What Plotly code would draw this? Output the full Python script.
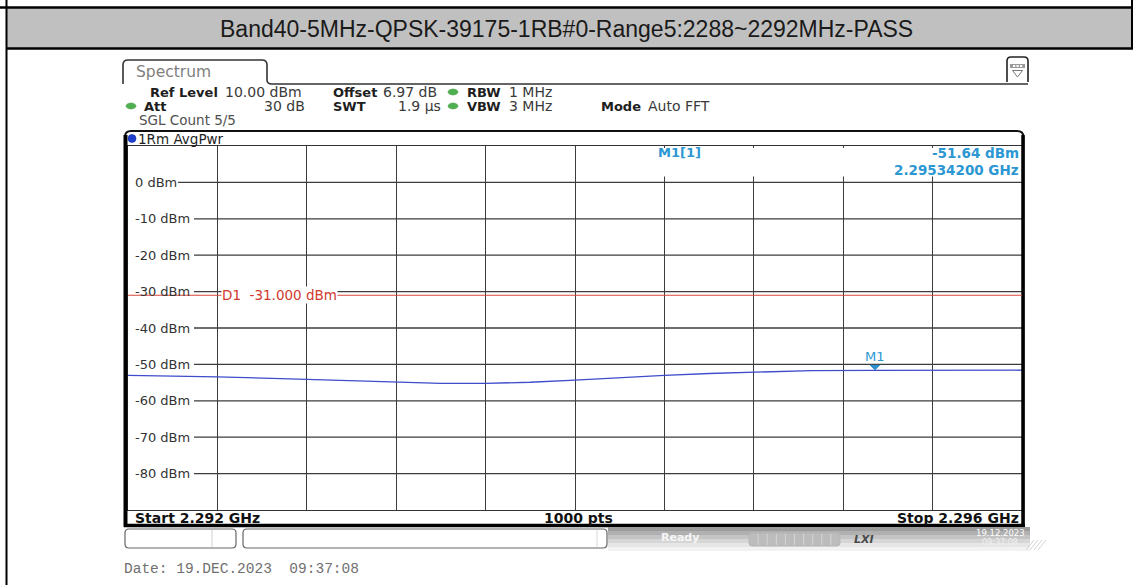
import plotly.graph_objects as go

W, H = 1133, 585

title_text = "Band40-5MHz-QPSK-39175-1RB#0-Range5:2288~2292MHz-PASS"

# Trace 1 (RMS average power) across the span
freq_ghz = [2.29200, 2.29240, 2.29280, 2.29320, 2.29340, 2.29360, 2.29380, 2.29400,
            2.29420, 2.29440, 2.29460, 2.29480, 2.29506, 2.29534, 2.29560, 2.29600]
level_dbm = [-53.0, -53.4, -54.1, -54.9, -55.2, -55.2, -54.9, -54.3,
             -53.6, -53.0, -52.5, -52.1, -51.7, -51.64, -51.6, -51.6]

# Marker M1 and display line D1
m1_freq_ghz = 2.295342
m1_level_dbm = -51.64
d1_level_dbm = -31.0

# Span and level scale
f_start_ghz = 2.292
f_stop_ghz = 2.296
ref_level_dbm = 10.0
bottom_level_dbm = -90.0
y_tick_values = [0, -10, -20, -30, -40, -50, -60, -70, -80]
y_tick_labels = ["0 dBm", "-10 dBm", "-20 dBm", "-30 dBm", "-40 dBm",
                 "-50 dBm", "-60 dBm", "-70 dBm", "-80 dBm"]

date_text = "Date: 19.DEC.2023  09:37:08"

# ---- pixel helpers (page coordinates -> paper fractions) ----
def px(x):
    return x / W


def py(y):
    return 1 - y / H


def pth(*segs):
    out = []
    for s in segs:
        cmd, vals = s[0], s[1:]
        coords = []
        for i in range(0, len(vals), 2):
            coords.append(f"{px(vals[i]):.5f},{py(vals[i + 1]):.5f}")
        out.append(cmd + " " + " ".join(coords))
    return " ".join(out)


shapes = []
annotations = []


def line(x0, y0, x1, y1, color="#000", width=1, layer="above"):
    shapes.append(dict(type="line", xref="paper", yref="paper",
                       x0=px(x0), y0=py(y0), x1=px(x1), y1=py(y1),
                       line=dict(color=color, width=width), layer=layer))


def rect(x0, y0, x1, y1, fill, color=None, width=0, layer="above"):
    shapes.append(dict(type="rect", xref="paper", yref="paper",
                       x0=px(x0), y0=py(y0), x1=px(x1), y1=py(y1),
                       fillcolor=fill,
                       line=dict(color=color or fill, width=width), layer=layer))


def path(p, color="#000", width=1, fill=None, layer="above"):
    d = dict(type="path", xref="paper", yref="paper", path=p,
             line=dict(color=color, width=width), layer=layer)
    if fill:
        d["fillcolor"] = fill
    shapes.append(d)


def text(x, y, s, size=12, color="#222", bold=False, anchor="left",
         family="DejaVu Sans", bg=None, xref="paper", yref="paper"):
    a = dict(x=px(x) if xref == "paper" else x,
             y=py(y) if yref == "paper" else y,
             xref=xref, yref=yref, text=s, showarrow=False,
             xanchor=anchor, yanchor="middle",
             font=dict(family=family, size=size, color=color,
                       weight="bold" if bold else "normal"),
             borderpad=0)
    if bg:
        a["bgcolor"] = bg
    annotations.append(a)


# ---- page frame and title band ----
rect(7, 8, 1133, 48, "#c0c0c0")
line(0, 7.5, 1133, 7.5, "#000", 2.5)
line(7, 48.5, 1133, 48.5, "#000", 2.5)
line(6.5, 0, 6.5, 585, "#000", 2)
line(1132, 0, 1132, 49, "#000", 2)
text(566, 28.5, title_text, size=23, color="#1a1a1a", family="Liberation Sans",
     anchor="center")

# ---- Spectrum tab and settings header ----
path(pth(("M", 123, 84), ("L", 123, 65), ("Q", 123, 60, 128, 60), ("L", 262, 60),
         ("Q", 267, 60, 267, 65), ("L", 267, 80), ("Q", 267, 84, 272, 84),
         ("L", 1028, 84)), color="#333", width=1.6)
text(135, 72, "Spectrum", size=15.5, color="#808080")

# menu icon, upper right
path(pth(("M", 1007, 82), ("L", 1007, 61), ("Q", 1007, 57, 1011, 57), ("L", 1024, 57),
         ("Q", 1028, 57, 1028, 61), ("L", 1028, 82)), color="#222", width=1.6, fill="white")
rect(1010, 64, 1025, 68, "#9a9a9a")
for xx in (1013, 1016.5, 1020):
    rect(xx, 65, xx + 2.2, 67, "#ffffff")
path(pth(("M", 1012.5, 70.5), ("L", 1022.5, 70.5), ("L", 1017.5, 77), ("Z",)),
     color="#777", width=1)

header_rows = [
    (149, 92, "Ref Level", True, "left"), (224, 92, "10.00 dBm", False, "left"),
    (332, 92, "Offset", True, "left"), (382, 92, "6.97 dB", False, "left"),
    (466, 92, "RBW", True, "left"), (508, 92, "1 MHz", False, "left"),
    (143, 106, "Att", True, "left"), (306, 106, "30 dB", False, "right"),
    (332, 106, "SWT", True, "left"), (442, 106, "1.9 µs", False, "right"),
    (466, 106, "VBW", True, "left"), (508, 106, "3 MHz", False, "left"),
    (600, 106, "Mode", True, "left"), (647, 106, "Auto FFT", False, "left"),
]
for x, y, s, b, anc in header_rows:
    text(x, y, s, size=13 if b else 14, color="#1e1e1e" if b else "#3a3a3a",
         bold=b, anchor=anc)
text(138, 120, "SGL Count 5/5", size=13.5, color="#505050")

for cx, cy in ((453, 92), (453, 106), (131, 106)):
    shapes.append(dict(type="circle", xref="paper", yref="paper",
                       x0=px(cx - 5), x1=px(cx + 5), y0=py(cy - 3), y1=py(cy + 3),
                       fillcolor="#4fb04f", line=dict(color="#3f9a3f", width=0.5)))

# ---- diagram box ----
path(pth(("M", 125, 527), ("L", 125, 137), ("Q", 125, 131, 131, 131), ("L", 1017, 131),
         ("Q", 1023.5, 131, 1023.5, 137), ("L", 1023.5, 527)), color="#111", width=2)
line(125.5, 135, 125.5, 527, "#000", 4)
line(1023, 135, 1023, 527, "#000", 3.5)
line(124, 525.5, 1025, 525.5, "#000", 3.5)
shapes.append(dict(type="circle", xref="paper", yref="paper",
                   x0=px(128), x1=px(136), y0=py(134.5), y1=py(142.5),
                   fillcolor="#1f3fcf", line=dict(color="#16309f", width=0.6)))
text(137, 138.5, "1Rm AvgPwr", size=13.5, color="#1e1e1e")

# keep the readout zone clear of the right-hand vertical grid
rect(579, 148, 1020, 176.5, "white")
text(657, 153, "M1[1]", size=13, color="#2c97d2", bold=True)
text(1020, 153, "-51.64 dBm", size=13.5, color="#2c97d2", bold=True, anchor="right")
text(1020, 170, "2.29534200 GHz", size=13.5, color="#2c97d2", bold=True, anchor="right")

# level labels and horizontal grid, each grid line starting after its label
for v, lab in zip(y_tick_values, y_tick_labels):
    text(134, v, lab, size=13, color="#333", yref="y")
    shapes.append(dict(type="line", xref="paper", yref="y",
                       x0=px(137 + 8 * len(lab) + 1), x1=px(1022), y0=v, y1=v,
                       line=dict(color="#3c3c3c", width=1.3), layer="below"))

# display line D1
shapes.append(dict(type="line", xref="paper", yref="y", x0=px(128), x1=px(1022),
                   y0=d1_level_dbm, y1=d1_level_dbm,
                   line=dict(color="#d9473a", width=1.2), layer="above"))
text(221, d1_level_dbm, f"D1  {d1_level_dbm:.3f} dBm", size=13.5, color="#d0392e",
     yref="y", bg="white")

# marker M1 symbol sitting on the trace
shapes.append(dict(type="path", xref="x", yref="y", xsizemode="pixel", ysizemode="pixel",
                   xanchor=m1_freq_ghz, yanchor=m1_level_dbm,
                   path="M -4.5 5 L 4.5 5 L 0 0.5 Z",
                   fillcolor="#2c8fd0", line=dict(color="#2c8fd0", width=1)))
annotations.append(dict(x=m1_freq_ghz, y=m1_level_dbm, xref="x", yref="y", text="M1",
                        showarrow=False, yshift=14, xanchor="center", yanchor="middle",
                        font=dict(family="DejaVu Sans", size=13, color="#2c97d2")))

# footer row of the diagram
text(134, 517.5, "Start 2.292 GHz", size=14, color="#111", bold=True)
text(578, 517.5, "1000 pts", size=14, color="#111", bold=True, anchor="center")
text(1020, 517.5, "Stop 2.296 GHz", size=14, color="#111", bold=True, anchor="right")

# ---- status bar ----
path(pth(("M", 129, 529), ("L", 232, 529), ("Q", 236, 529, 236, 533), ("L", 236, 544),
         ("Q", 236, 548, 232, 548), ("L", 129, 548), ("Q", 125, 548, 125, 544),
         ("L", 125, 533), ("Q", 125, 529, 129, 529)), color="#666", width=1.2)
line(212, 530, 212, 547, "#d0d0d0", 1)
path(pth(("M", 247, 529), ("L", 603, 529), ("Q", 607, 529, 607, 533), ("L", 607, 544),
         ("Q", 607, 548, 603, 548), ("L", 247, 548), ("Q", 243, 548, 243, 544),
         ("L", 243, 533), ("Q", 243, 529, 247, 529)), color="#666", width=1.2)
line(597, 530, 597, 547, "#d8d8d8", 1)
grad = ["#9c9c9c", "#b0b0b0", "#c4c4c4", "#d6d6d6", "#e6e6e6", "#f2f2f2"]
for i, c in enumerate(grad):
    rect(608, 527 + 4 * i, 1030, 531 + 4 * i, c)
text(680, 537, "Ready", size=11, color="#f6f6f6", bold=True, anchor="center")
path(pth(("M", 752, 533), ("L", 837, 533), ("Q", 840, 533, 840, 536), ("L", 840, 543),
         ("Q", 840, 546, 837, 546), ("L", 752, 546), ("Q", 749, 546, 749, 543),
         ("L", 749, 536), ("Q", 749, 533, 752, 533)), color="#b8b8b8", width=1, fill="#bcbcbc")
for k in range(1, 10):
    line(749 + 9.1 * k, 534, 749 + 9.1 * k, 545, "#d6d6d6", 1)
text(864, 539, "<i>LXI</i>", size=11, color="#4a4a4a", bold=True, anchor="center")
text(1000, 533, "19.12.2023", size=8.5, color="#ffffff", anchor="center")
text(1000, 542, "09:37:08", size=8, color="#f0f0f0", anchor="center")
for k in range(4):
    line(1026 + 4 * k, 550, 1034 + 4 * k, 540, "#d4d4d4", 1)

text(123, 569, date_text, size=14.5, color="#707070", family="Liberation Mono")

# ---- figure ----
fig = go.Figure()
fig.add_trace(go.Scatter(x=freq_ghz, y=level_dbm, mode="lines",
                         line=dict(color="#3f4ccc", width=1.3), hoverinfo="skip"))

fig.update_layout(
    width=W, height=H,
    margin=dict(l=0, r=0, t=0, b=0),
    paper_bgcolor="white",
    plot_bgcolor="rgba(0,0,0,0)",
    showlegend=False,
    xaxis=dict(domain=[px(128), px(1022)], range=[f_start_ghz, f_stop_ghz],
               tick0=f_start_ghz, dtick=(f_stop_ghz - f_start_ghz) / 10,
               showgrid=True, gridcolor="#3c3c3c", gridwidth=1.3,
               showticklabels=False, ticks="", zeroline=False,
               showline=True, mirror=True, linecolor="#333", linewidth=1.3,
               fixedrange=True),
    yaxis=dict(domain=[py(510), py(146)], range=[bottom_level_dbm, ref_level_dbm],
               showgrid=False, showticklabels=False, ticks="", zeroline=False,
               showline=True, mirror=True, linecolor="#333", linewidth=1.3,
               fixedrange=True),
    shapes=shapes,
    annotations=annotations,
)

fig.write_html("out.html")
